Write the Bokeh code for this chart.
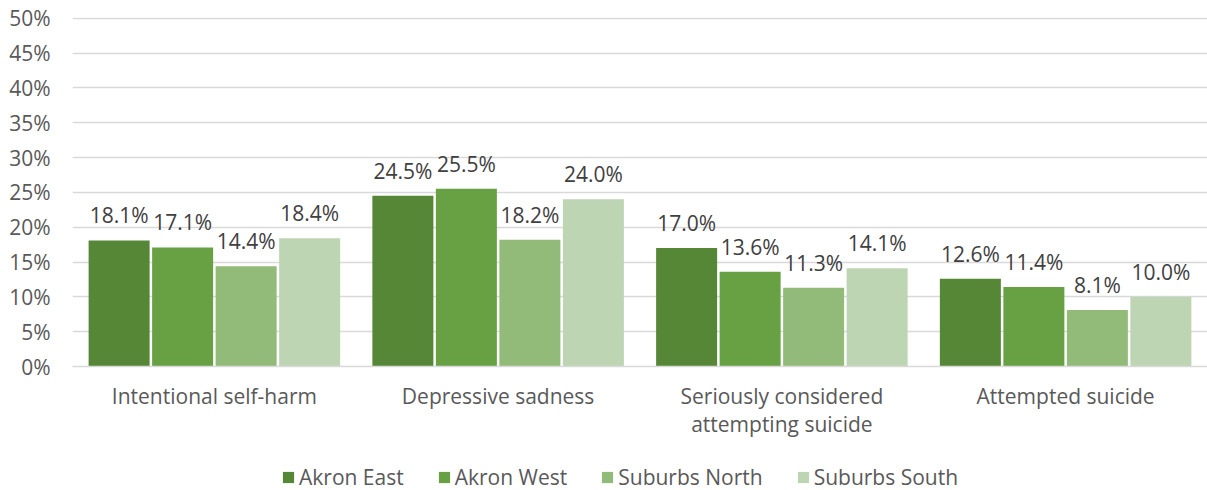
from bokeh.plotting import figure
from bokeh.layouts import column
from bokeh.models import (ColumnDataSource, FactorRange, Range1d, FixedTicker,
                          PrintfTickFormatter, Legend, LegendItem)
from bokeh.transform import dodge
from bokeh.core.properties import value
from bokeh.embed import file_html
from bokeh.resources import INLINE

categories = ["Intentional self-harm", "Depressive sadness",
              "Seriously considered\nattempting suicide", "Attempted suicide"]
series_names = ["Akron East", "Akron West", "Suburbs North", "Suburbs South"]
akron_east = [18.1, 24.5, 17.0, 12.6]
akron_west = [17.1, 25.5, 13.6, 11.4]
suburbs_north = [14.4, 18.2, 11.3, 8.1]
suburbs_south = [18.4, 24.0, 14.1, 10.0]
y_ticks = [0, 5, 10, 15, 20, 25, 30, 35, 40, 45, 50]

series_values = [akron_east, akron_west, suburbs_north, suburbs_south]
colors = ["#558737", "#68A044", "#92BB7A", "#BED5B4"]
offsets = [-0.3357, -0.1119, 0.1119, 0.3357]
FONT = "Open Sans"

p = figure(width=1207, height=456, output_backend="svg", toolbar_location=None,
           x_range=FactorRange(factors=categories, range_padding=0),
           y_range=Range1d(0, 50.1),
           min_border_left=72, min_border_right=0, min_border_top=17,
           min_border_bottom=90)
p.outline_line_color = None
p.background_fill_color = "white"
p.border_fill_color = "white"

p.ygrid.ticker = FixedTicker(ticks=y_ticks)
p.ygrid.grid_line_color = "#d9d9d9"
p.ygrid.grid_line_width = 1.3
p.xgrid.grid_line_color = None

ya = p.yaxis[0]
ya.ticker = FixedTicker(ticks=y_ticks)
ya.formatter = PrintfTickFormatter(format="%d%%")
ya.axis_line_color = None
ya.major_tick_line_color = None
ya.minor_tick_line_color = None
ya.major_tick_out = 0
ya.major_tick_in = 0
ya.minor_tick_out = 0
ya.major_label_standoff = 22
ya.major_label_text_font = FONT
ya.major_label_text_font_size = "21px"
ya.major_label_text_color = "#595959"

xa = p.xaxis[0]
xa.axis_line_color = "#d9d9d9"
xa.axis_line_width = 1.5
xa.major_tick_line_color = None
xa.minor_tick_line_color = None
xa.major_tick_out = 0
xa.major_tick_in = 0
xa.minor_tick_out = 0
xa.major_label_standoff = 15
xa.major_label_text_font = FONT
xa.major_label_text_font_size = "21px"
xa.major_label_text_color = "#595959"
xa.major_label_text_line_height = 1.0

for name, vals, col, off in zip(series_names, series_values, colors, offsets):
    src = ColumnDataSource(dict(cat=categories, val=vals,
                                lab=[f"{v:.1f}%" for v in vals]))
    p.vbar(x=dodge("cat", off, range=p.x_range), top="val", width=0.215,
           source=src, fill_color=col, line_color=None)
    p.text(x=dodge("cat", off, range=p.x_range), y="val", text="lab", source=src,
           text_align="center", text_baseline="alphabetic", y_offset=-25,
           text_font=value(FONT), text_font_size="21px", text_color="#404040")

# legend strip below the chart (swatches only; bars sit outside its view)
lg = figure(width=1207, height=34, output_backend="svg", toolbar_location=None,
            x_range=Range1d(0, 1), y_range=Range1d(0, 1),
            x_axis_location=None, y_axis_location=None,
            min_border_left=0, min_border_right=0, min_border_top=0,
            min_border_bottom=0)
lg.outline_line_color = None
lg.grid.grid_line_color = None
items = []
for name, col in zip(series_names, colors):
    r = lg.vbar(x=[-5], top=[0], width=0.1, fill_color=col, line_color=None)
    items.append(LegendItem(label=name, renderers=[r]))
legend = Legend(items=items, orientation="horizontal", location=(209, -1),
                glyph_width=14, glyph_height=14, label_standoff=4, spacing=33,
                padding=0, margin=0, border_line_color=None,
                background_fill_alpha=0,
                label_text_font=FONT, label_text_font_size="21px",
                label_text_color="#595959")
lg.add_layout(legend, "center")

layout = column(p, lg, spacing=0)
open("out.html", "w").write(file_html(layout, INLINE))
